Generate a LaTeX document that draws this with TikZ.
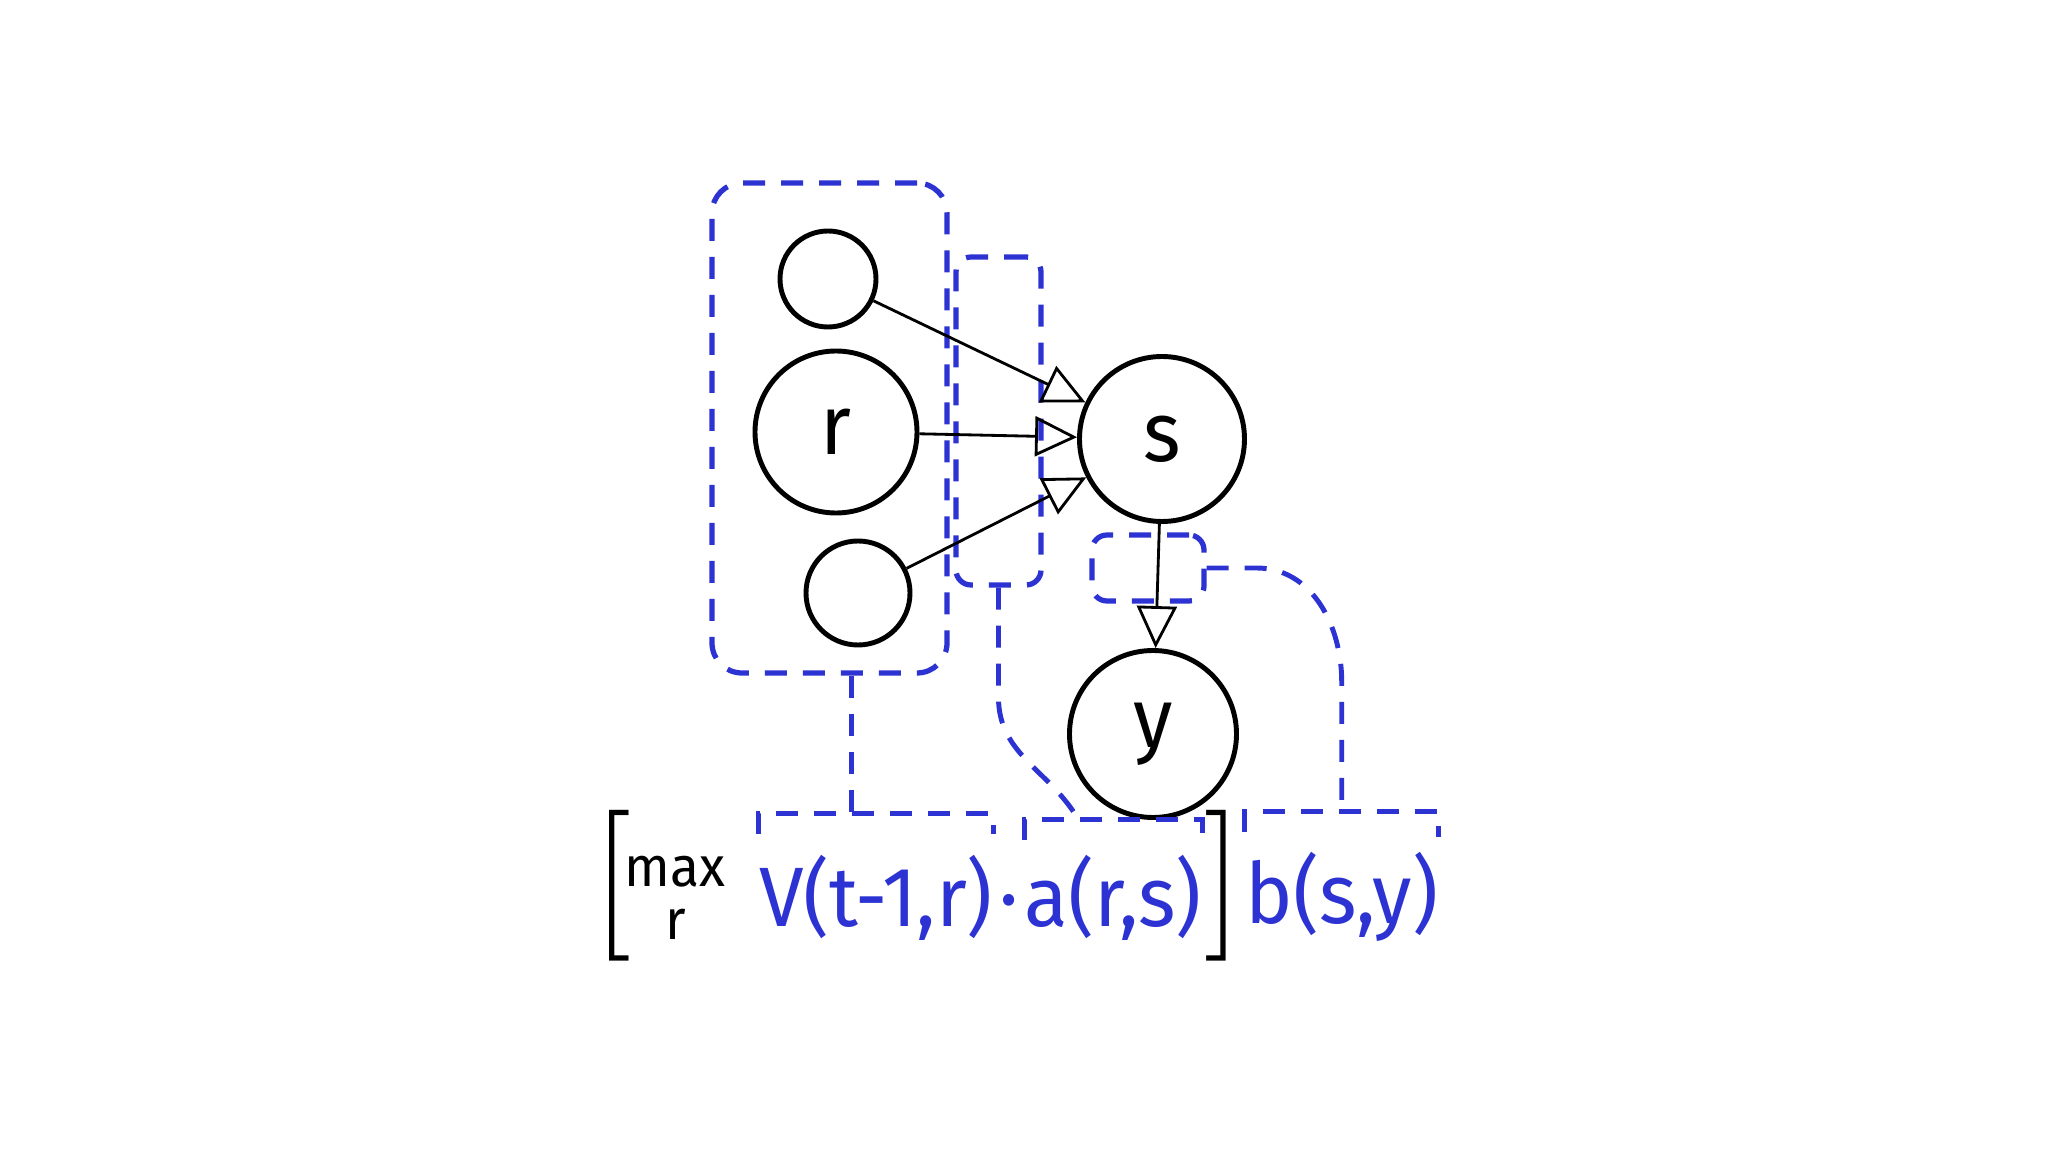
\documentclass[tikz,border=0pt]{standalone}
\usepackage{fontspec}
\setmainfont{Fira Sans}
\newfontfamily\handfont[FakeStretch=0.95]{Fira Sans}
\newfontfamily\brackfont{Latin Modern Roman}
\usepackage{xcolor}
\usetikzlibrary{positioning, arrows.meta}
\definecolor{penblue}{RGB}{45,50,210}
\tikzstyle{arrow} = [line width=0.8pt, -{Triangle[open, length=4.2mm, width=4mm]}]

\begin{document}
\begin{tikzpicture}[
			unit/.style={circle, draw, line width=1.4pt, inner sep=0pt, font=\handfont\fontsize{24}{24}\selectfont},
			grp/.style={draw=penblue, line width=1.5pt, dash pattern=on 2.2mm off 1.6mm, rounded corners=3mm, inner sep=0pt},
			link/.style={draw=penblue, line width=1.4pt, dash pattern=on 2.2mm off 1.6mm},
			term/.style={text=penblue, inner sep=0pt, font=\handfont\fontsize{24}{24}\selectfont},
			brk/.style={inner sep=0pt, yshift=1.2mm, font=\brackfont\fontsize{43}{43}\selectfont}
			]
			\useasboundingbox (0,0) rectangle (20.48,-11.52);
			
			% group boxes
			\node[grp, minimum width=2.35cm, minimum height=4.9cm] (rgrp) at (8.295,-4.28) {};
			\node[grp, minimum width=0.85cm, minimum height=3.28cm, rounded corners=1.5mm] (agrp) at (9.985,-4.21) {};
			\node[grp, minimum width=1.12cm, minimum height=0.66cm, rounded corners=1.5mm] (bgrp) at (11.48,-5.68) {};
			
			% units
			\node[unit, minimum size=0.96cm] (r1) at (8.28,-2.79) {};
			\node[unit, minimum size=1.62cm] (r) at (8.36,-4.32) {r};
			\node[unit, minimum size=1.04cm] (r3) at (8.58,-5.93) {};
			\node[unit, minimum size=1.65cm] (s) at (11.62,-4.39) {s};
			\node[unit, minimum size=1.67cm] (y) at (11.53,-7.34) {y};
			
			\draw[arrow] (r1) -- (s);
			\draw[arrow] (r) -- (s);
			\draw[arrow] (r3) -- (s);
			\draw[arrow] (s) -- (y);
			
			% formula
			\node[term] (vterm) at (8.76,-8.98) {V(t-1,r)};
			\node[term, base right=0.5mm of vterm] (dot) {·};
			\node[term, base right=0.5mm of dot] (aterm) {a(r,s)};
			\node[brk, right=0.1mm of aterm] (rbr) {]};
			\node[term, base right=0.2mm of rbr] (bterm) {b(s,y)};
			\node[inner sep=0pt, align=center, font=\handfont\fontsize{16}{15}\selectfont, left=3.2mm of vterm] (maxr) {max\\r};
			\node[brk, left=-0.8mm of maxr] (lbr) {[};
			
			\coordinate (vbr) at ([yshift=4.1mm]vterm.north);
			\coordinate (abr) at ([yshift=3.5mm]aterm.north);
			\coordinate (bbr) at ([yshift=4mm]bterm.north);
			\draw[link] ([yshift=2.1mm]vterm.north west) |- (vbr) -| ([yshift=2.1mm]vterm.north east);
			\draw[link] ([yshift=1.5mm]aterm.north west) |- (abr) -| ([yshift=1.5mm]aterm.north east);
			\draw[link] ([yshift=2mm]bterm.north west) |- (bbr) -| ([yshift=1.5mm]bterm.north east);
			
			% links to the terms
			\coordinate (rfoot) at ([xshift=2.2mm]rgrp.south);
			\coordinate (afoot) at ([xshift=-3.5mm]abr);
			\coordinate (bknee) at ([yshift=13mm]bbr);
			\draw[link] (rfoot) -- (rfoot |- vbr);
			\draw[link] (agrp.south) -- ++(0,-1.1) to[out=-90, in=120] (afoot);
			\draw[link] (bgrp.east) -- ++(0.5,0) to[out=0, in=90] (bknee) -- (bbr);
		\end{tikzpicture}
\end{document}
